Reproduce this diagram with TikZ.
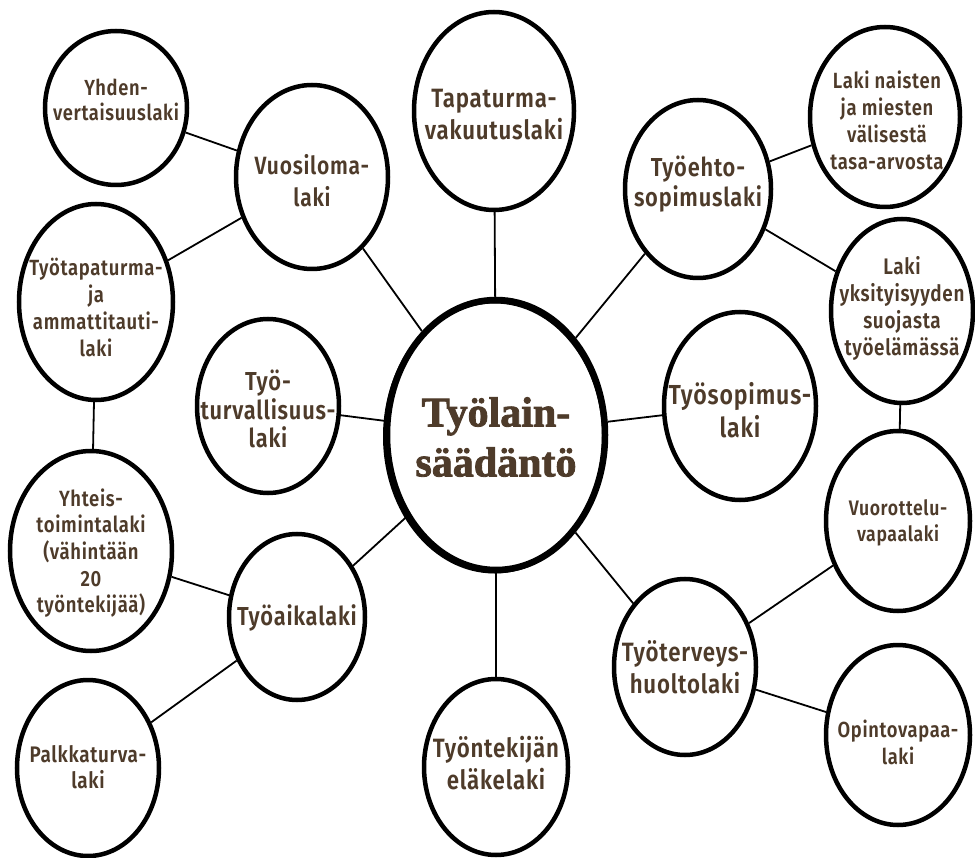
\documentclass[tikz,border=0pt]{standalone}
\usepackage{fontspec}
\usetikzlibrary{shapes.geometric}
\IfFontExistsTF{Fira Sans SemiBold}{%
  \newfontfamily\labfont{Fira Sans SemiBold}[FakeStretch=0.84, LetterSpace=3]%
  \newcommand\labweight{}}{%
  \newfontfamily\labfont{Fira Sans}[FakeStretch=0.84, LetterSpace=3]%
  \newcommand\labweight{\bfseries}}
\newfontfamily\ctrfont{Liberation Serif}[FakeBold=2]
\definecolor{txtbrown}{RGB}{78,59,42}
\tikzset{
  bub/.style={ellipse, draw=black, line width=4.5pt, fill=white, inner sep=0pt},
  lab/.style 2 args={font=\labfont\labweight\fontsize{#1}{#2}\selectfont, text=txtbrown, align=center, inner sep=0pt},
  con/.style={line width=1.8pt, draw=black}
}
\begin{document}
\begin{tikzpicture}[x=1pt,y=-1pt]
\fill[white] (0,0) rectangle (975,858);
\useasboundingbox (0,0) rectangle (975,858);
% ellipses
\node[bub, minimum width=142pt, minimum height=154pt] (yhd) at (116,108) {};
\node[bub, minimum width=152pt, minimum height=184pt] (vuo) at (312,177) {};
\node[bub, minimum width=154pt, minimum height=196pt] (tta) at (96,302) {};
\node[bub, minimum width=162pt, minimum height=200pt] (yht) at (91,551) {};
\node[bub, minimum width=142pt, minimum height=176pt] (pal) at (88,768) {};
\node[bub, minimum width=136pt, minimum height=166pt] (tai) at (297,617) {};
\node[bub, minimum width=142pt, minimum height=174pt] (ttu) at (268,406) {};
\node[bub, minimum width=160pt, minimum height=198pt] (tap) at (494,111) {};
\node[bub, line width=6.5pt, minimum width=218pt, minimum height=270pt] (ctr) at (496,435) {};
\draw[line width=4pt] (494.5,436.5) ellipse (109.5pt and 135pt);
\node[bub, minimum width=146pt, minimum height=178pt] (teh) at (698,189) {};
\node[bub, minimum width=150pt, minimum height=180pt] (lna) at (885,117) {};
\node[bub, minimum width=142pt, minimum height=184pt] (lyk) at (902,311) {};
\node[bub, minimum width=152pt, minimum height=188pt] (tso) at (740,406) {};
\node[bub, minimum width=144pt, minimum height=180pt] (vuor) at (898,521) {};
\node[bub, minimum width=142pt, minimum height=176pt] (ter) at (685,667) {};
\node[bub, minimum width=144pt, minimum height=180pt] (opi) at (898,735) {};
\node[bub, minimum width=144pt, minimum height=176pt] (tek) at (496,767) {};
% connectors
\draw[con] (yhd) -- (vuo);
\draw[con] (tta) -- (vuo);
\draw[con] (vuo) -- (ctr);
\draw[con] (tta) -- (yht);
\draw[con] (yht) -- (tai);
\draw[con] (pal) -- (tai);
\draw[con] (tai) -- (ctr);
\draw[con] (ttu) -- (ctr);
\draw[con] (tap) -- (ctr);
\draw[con] (teh) -- (ctr);
\draw[con] (teh) -- (lna);
\draw[con] (teh) -- (lyk);
\draw[con] (lyk) -- (vuor);
\draw[con] (tso) -- (ctr);
\draw[con] (ctr) -- (ter);
\draw[con] (ter) -- (vuor);
\draw[con] (ter) -- (opi);
\draw[con] (ctr) -- (tek);
% texts
\node[lab={21.8}{25}] (t1) at (116,100) {Yhden-\\vertaisuuslaki};
\node[lab={25}{32}] (t2) at (312,181) {Vuosiloma-\\laki};
\node[lab={22}{27}] (t3) at (96,307) {Työtapaturma-\\ja\\ammattitauti-\\laki};
\node[lab={22}{26.7}] (t4) at (91,553) {Yhteis-\\toimintalaki\\(vähintään\\20\\työntekijää)};
\node[lab={22.5}{25.5}] (t5) at (88,767) {Palkkaturva-\\laki};
\node[lab={26}{30}] (t6) at (297,618) {Työaikalaki};
\node[lab={26}{28.3}] (t7) at (268,409) {Työ-\\turvallisuus-\\laki};
\node[lab={26.5}{32}] (t8) at (494,115) {Tapaturma-\\vakuutuslaki};
\node[lab={26}{30}] (t9) at (698,184) {Työehto-\\sopimuslaki};
\node[lab={22}{27}] (t10) at (887,120) {Laki naisten\\ja miesten\\välisestä\\tasa-arvosta};
\node[lab={22.5}{27}] (t11) at (902,308) {Laki\\yksityisyyden\\suojasta\\työelämässä};
\node[lab={27.5}{33}] (t12) at (740,410) {Työsopimus-\\laki};
\node[lab={21}{25.5}] (t13) at (898,523) {Vuorottelu-\\vapaalaki};
\node[lab={21.8}{27}] (t14) at (898,742) {Opintovapaa-\\laki};
\node[lab={26.5}{32}] (t15) at (685,667) {Työterveys-\\huoltolaki};
\node[lab={26.5}{32}] (t16) at (496,763) {Työntekijän\\eläkelaki};
\node[font=\ctrfont\bfseries\fontsize{42}{50}\selectfont, text=txtbrown, align=center, inner sep=0pt] (tc) at (496,437) {Työlain-\\säädäntö};
\end{tikzpicture}
\end{document}
